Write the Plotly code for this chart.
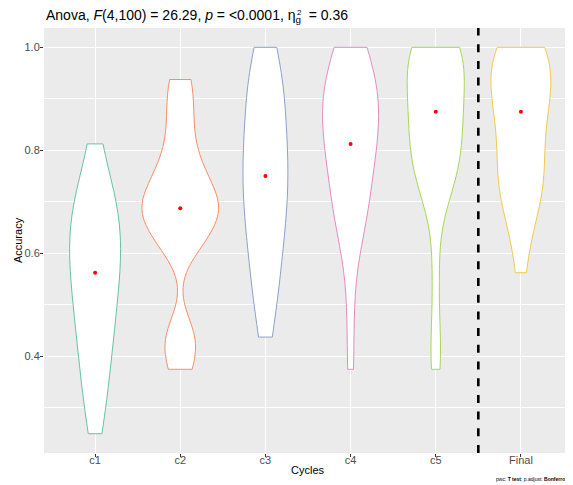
import numpy as np
import plotly.graph_objects as go

# ---- data (accuracy per participant) ----
categories = ["c1", "c2", "c3", "c4", "c5", "Final"]

acc_c1 = [0.25, 0.3125, 0.3125, 0.375, 0.375, 0.4375, 0.4375, 0.4375,
          0.5, 0.5, 0.5,
          0.5625, 0.5625, 0.5625, 0.5625,
          0.625, 0.625, 0.625, 0.625,
          0.6875, 0.6875, 0.6875, 0.6875, 0.75, 0.75, 0.8125]
acc_c2 = [0.375, 0.375, 0.4375, 0.4375, 0.4375,
          0.625, 0.625, 0.625, 0.625,
          0.6875, 0.6875, 0.6875, 0.6875, 0.6875, 0.6875, 0.6875,
          0.75, 0.75, 0.75, 0.75,
          0.8125, 0.8125, 0.875, 0.875, 0.9375, 0.9375]
acc_c3 = [0.4375, 0.5, 0.5, 0.5625, 0.5625, 0.625, 0.625, 0.625,
          0.6875, 0.6875, 0.6875, 0.75, 0.75, 0.75, 0.75,
          0.8125, 0.8125, 0.8125, 0.875, 0.875, 0.875,
          0.9375, 0.9375, 0.9375, 1.0, 1.0]
acc_c4 = [0.375, 0.5, 0.625, 0.625, 0.6875, 0.6875, 0.6875,
          0.75, 0.75, 0.75,
          0.8125, 0.8125, 0.8125, 0.8125,
          0.875, 0.875, 0.875, 0.875, 0.875,
          0.9375, 0.9375, 0.9375, 0.9375,
          1.0, 1.0, 1.0]
acc_c5 = [0.375, 0.4375, 0.5625, 0.6875,
          0.75, 0.75, 0.75, 0.75,
          0.8125, 0.8125, 0.8125, 0.8125,
          0.875, 0.875, 0.875, 0.875,
          0.9375, 0.9375, 0.9375, 0.9375,
          1.0, 1.0, 1.0, 1.0, 1.0, 1.0]
acc_final = [0.5625, 0.625, 0.6875, 0.6875, 0.6875,
             0.75, 0.75, 0.75, 0.75, 0.8125, 0.8125, 0.8125,
             0.875, 0.875, 0.875, 0.875,
             0.9375, 0.9375, 0.9375, 0.9375, 0.9375,
             1.0, 1.0, 1.0, 1.0, 1.0]
series = [acc_c1, acc_c2, acc_c3, acc_c4, acc_c5, acc_final]
medians = [0.5625, 0.6875, 0.75, 0.8125, 0.875, 0.875]
y_ticks = [0.4, 0.6, 0.8, 1.0]
y_tick_labels = ["0.4", "0.6", "0.8", "1.0"]
y_minor = [0.3, 0.5, 0.7, 0.9]

colors = ["#66C2A5", "#FC8D62", "#8DA0CB", "#E78AC3", "#A6D854", "#F2C94C"]


def nrd0(v):
    v = np.asarray(v, dtype=float)
    sd = v.std(ddof=1)
    iqr = np.subtract(*np.percentile(v, [75, 25]))
    lo = min(sd, iqr / 1.34) if iqr > 0 else sd
    return 0.9 * lo * len(v) ** (-0.2)


def kde_peak(v, bw):
    # peak of the gaussian density inside the data range (for area-equal widths)
    v = np.asarray(v, dtype=float)
    g = np.linspace(v.min(), v.max(), 400)
    d = np.exp(-0.5 * ((g[:, None] - v[None, :]) / bw) ** 2).sum(1)
    return (d / (len(v) * bw * np.sqrt(2 * np.pi))).max()


bws = [nrd0(s) for s in series]
peaks = [kde_peak(s, b) for s, b in zip(series, bws)]
max_peak = max(peaks)

fig = go.Figure()
for cat, vals, col, bw, pk in zip(categories, series, colors, bws, peaks):
    fig.add_trace(go.Violin(
        x=[cat] * len(vals), y=vals, name=cat,
        line=dict(color=col, width=1), fillcolor="white",
        points=False, spanmode="hard", bandwidth=bw,
        scalemode="width", width=0.9 * pk / max_peak,
        box=dict(visible=False), meanline=dict(visible=False),
        hoverinfo="skip", showlegend=False,
    ))

fig.add_trace(go.Scatter(
    x=categories, y=medians, mode="markers",
    marker=dict(color="red", size=4), hoverinfo="skip", showlegend=False,
))

fig.add_shape(type="line", xref="x", yref="paper", x0=4.5, x1=4.5, y0=0, y1=1,
              line=dict(color="black", width=2.6, dash="8px,8.7px"))

font = "Liberation Sans, Arial, sans-serif"
# the page body adds an 8px offset, so the figure is drawn 8px smaller
fig.update_layout(
    width=565, height=477,
    margin=dict(l=36, r=1, t=20, b=32),
    paper_bgcolor="white", plot_bgcolor="#EBEBEB",
    font=dict(family=font, size=11, color="#4D4D4D"),
    violinmode="overlay", violingap=0,
    xaxis=dict(type="category", categoryorder="array", categoryarray=categories,
               range=[-0.6, 5.6], showgrid=True, gridcolor="white", gridwidth=1,
               ticks="outside", ticklen=3, tickcolor="#333333",
               ticklabelstandoff=-6,
               tickfont=dict(size=11, color="#4D4D4D"), zeroline=False,
               showline=False),
    yaxis=dict(range=[0.2125, 1.0375], tickvals=y_ticks, ticktext=y_tick_labels,
               showgrid=True, gridcolor="white", gridwidth=1,
               ticks="outside", ticklen=3, tickcolor="#333333",
               ticklabelstandoff=-2,
               tickfont=dict(size=11, color="#4D4D4D"), zeroline=False,
               minor=dict(tickvals=y_minor, showgrid=True,
                          gridcolor="white", gridwidth=0.5, ticks="")),
)

annots = [
    dict(text="Anova, <i>F</i>(4,100) = 26.29, <i>p</i> = &lt;0.0001, η<sub>g</sub>&nbsp; = 0.36",
         x=0, y=1.029, xref="paper", yref="paper", xanchor="left", yanchor="middle",
         showarrow=False, font=dict(size=14, color="black", family=font)),
    dict(text="2", x=0.4765, y=1.0365, xref="paper", yref="paper", borderpad=0,
         xanchor="left", yanchor="middle", showarrow=False,
         font=dict(size=8, color="black", family=font)),
    dict(text="Cycles", x=0.5, y=-0.04, xref="paper", yref="paper",
         xanchor="center", yanchor="middle", showarrow=False,
         font=dict(size=11, color="black", family=font)),
    dict(text="Accuracy", x=-0.05, y=0.5, xref="paper", yref="paper", textangle=-90,
         xanchor="center", yanchor="middle", showarrow=False,
         font=dict(size=11, color="black", family=font)),
    dict(text="pwc: <b>T test</b>; p.adjust: <b>Bonferroni</b>", x=1, y=-0.061,
         xref="paper", yref="paper", xanchor="right", yanchor="middle",
         showarrow=False, font=dict(size=5, color="black", family=font)),
]
fig.update_layout(annotations=annots)

fig.write_html("out.html")
